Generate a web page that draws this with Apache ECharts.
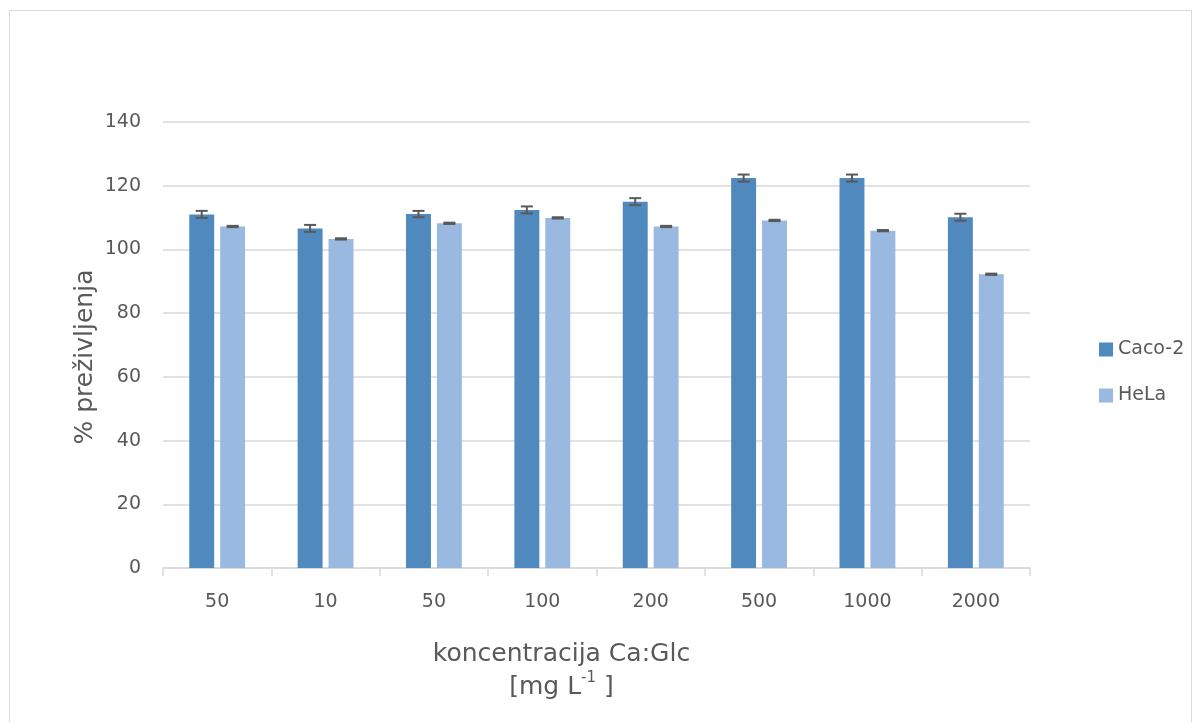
<!DOCTYPE html>
<html><head><meta charset="utf-8">
<script src="https://cdn.jsdelivr.net/npm/echarts@6/dist/echarts.min.js"></script>
<style>html,body{margin:0;padding:0;background:#fff}#c{width:1201px;height:722px}</style>
</head><body><div id="c"></div>
<script>
const categories = ['50','10','50','100','200','500','1000','2000'];
const caco2 = [111.0, 106.6, 111.1, 112.4, 115.0, 122.4, 122.4, 110.1];
const caco2Err = [1.1, 1.1, 1.0, 1.1, 1.1, 1.1, 1.1, 1.1];
const hela = [107.2, 103.3, 108.2, 109.9, 107.2, 109.1, 105.9, 92.2];
const helaErr = [0.2, 0.2, 0.2, 0.2, 0.2, 0.2, 0.2, 0.2];
const yTicks = {min: 0, max: 140, interval: 20};

const BW = 0.23, GAP = 0.24;
const off = (BW + BW * GAP) / 2;
function errSeries(vals, errs, sign) {
  return {
    type: 'custom', z: 10, silent: true,
    data: vals.map((v, i) => [i, v, errs[i]]),
    renderItem: function (params, api) {
      const i = api.value(0), v = api.value(1), e = api.value(2);
      const band = api.size([1, 0])[0];
      const c = api.coord([i, v]);
      const x = c[0] + sign * off * band;
      const yt = api.coord([i, v + e])[1];
      const yb = api.coord([i, v - e])[1];
      const cap = 6;
      const st = {stroke: '#595959', lineWidth: 2};
      return {type: 'group', children: [
        {type: 'line', shape: {x1: x, y1: yt, x2: x, y2: yb}, style: st},
        {type: 'line', shape: {x1: x - cap, y1: yt, x2: x + cap, y2: yt}, style: st},
        {type: 'line', shape: {x1: x - cap, y1: yb, x2: x + cap, y2: yb}, style: st}
      ]};
    }
  };
}
const font = 'Tahoma, "DejaVu Sans", Verdana, sans-serif';
const chart = echarts.init(document.getElementById('c'));
chart.setOption({
  animation: false,
  textStyle: {fontFamily: font},
  graphic: [
    {type: 'rect', shape: {x: 9.5, y: 10.5, width: 1182, height: 720}, style: {fill: 'none', stroke: '#d9d9d9', lineWidth: 1}},
    {type: 'text', x: 85, y: 357, rotation: Math.PI / 2,
      style: {text: '% preživljenja', fill: '#595959', font: '25px ' + font, align: 'center', verticalAlign: 'middle'}}
  ],
  grid: {left: 163, right: 171, top: 122, bottom: 154},
  legend: {
    orient: 'vertical', left: 1099, top: 340, padding: 0, itemGap: 27, itemWidth: 14, itemHeight: 14,
    icon: 'rect', textStyle: {color: '#595959', fontSize: 19, fontFamily: font},
    data: ['Caco-2', 'HeLa']
  },
  xAxis: {
    type: 'category', data: categories,
    axisLine: {lineStyle: {color: '#d9d9d9', width: 1.5}},
    axisTick: {show: true, length: 8, lineStyle: {color: '#d9d9d9', width: 1.5}},
    axisLabel: {color: '#595959', fontSize: 19, margin: 25, fontFamily: font},
    name: '{a|koncentracija Ca:Glc}\n{a|[mg L}{s|-1}{a| ]}',
    nameLocation: 'middle', nameGap: 70,
    nameTextStyle: {
      padding: [0, 70, 0, 0],
      rich: {
        a: {fontSize: 25, color: '#595959', fontFamily: font, lineHeight: 33},
        s: {fontSize: 15, color: '#595959', fontFamily: font, verticalAlign: 'top', lineHeight: 33, padding: [0, 0, 10, 0]}
      }
    }
  },
  yAxis: {
    type: 'value', min: yTicks.min, max: yTicks.max, interval: yTicks.interval,
    axisLine: {show: false}, axisTick: {show: false},
    splitLine: {lineStyle: {color: '#d9d9d9', width: 1.5}},
    axisLabel: {color: '#595959', fontSize: 19, margin: 22, fontFamily: font}
  },
  series: [
    {name: 'Caco-2', type: 'bar', data: caco2, barWidth: (BW * 100) + '%', barGap: (GAP * 100) + '%',
      itemStyle: {color: '#4f89bd'}},
    {name: 'HeLa', type: 'bar', data: hela, barWidth: (BW * 100) + '%', barGap: (GAP * 100) + '%',
      itemStyle: {color: '#99b9e0'}},
    errSeries(caco2, caco2Err, -1),
    errSeries(hela, helaErr, 1)
  ]
});
</script></body></html>
